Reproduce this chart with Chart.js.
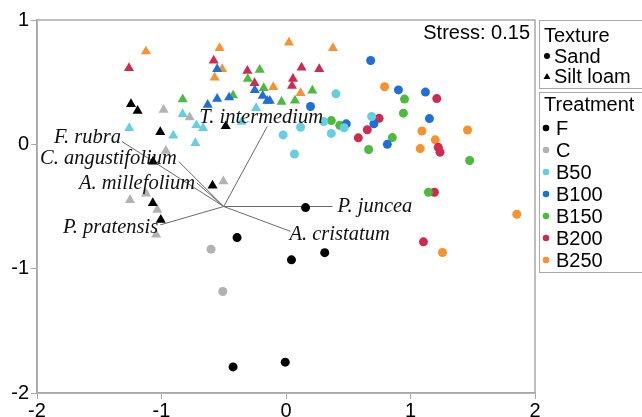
<!DOCTYPE html>
<html>
<head>
<meta charset="utf-8">
<script src="https://cdn.jsdelivr.net/npm/chart.js@4.4.1/dist/chart.umd.min.js"></script>
<style>
  html, body { margin: 0; padding: 0; background: #fff; }
  #wrap { width: 642px; height: 417px; position: relative; }
</style>
</head>
<body>
<div id="wrap"><canvas id="nmds"></canvas></div>
<script>
const treatments = ['F', 'C', 'B50', 'B100', 'B150', 'B200', 'B250'];
const colours = ['#000000', '#b2b2b2', '#62d0e2', '#1f6fd8', '#4cbb3c', '#d02a50', '#f7922f'];

// NMDS scores, sand plots (circles)
const sandF    = [[-0.393,-0.750],[0.157,-0.509],[0.044,-0.929],[0.311,-0.871],[-0.425,-1.790],[-0.006,-1.752]];
const sandC    = [[-0.602,-0.843],[-0.508,-1.184]];
const sandB50  = [[-0.023,0.076],[0.117,0.137],[0.068,-0.078],[0.302,0.183],[0.364,0.088],[0.401,0.406],[0.467,0.133],[0.688,0.224]];
const sandB100 = [[0.197,0.304],[0.680,0.674],[0.903,0.438],[1.120,0.420],[1.152,0.207],[0.706,0.165],[0.484,0.165],[0.814,0.000]];
const sandB150 = [[0.364,0.191],[0.432,0.153],[0.952,0.364],[0.943,0.251],[0.854,0.054],[0.664,-0.042],[1.475,-0.130],[1.144,-0.385]];
const sandB200 = [[1.211,0.368],[0.748,0.209],[0.653,0.117],[0.581,0.052],[1.223,-0.024],[1.237,-0.063],[1.192,-0.385],[1.104,-0.784]];
const sandB250 = [[0.792,0.463],[1.092,0.107],[1.199,0.036],[1.078,-0.034],[1.458,0.115],[1.854,-0.562],[1.257,-0.870]];

// NMDS scores, silt loam plots (triangles)
const siltF    = [[-1.245,0.323],[-1.192,0.270],[-1.010,0.098],[-1.068,-0.138],[-0.484,0.146],[-0.590,-0.332],[-1.070,-0.473],[-1.006,-0.607]];
const siltC    = [[-0.983,0.278],[-0.774,0.217],[-0.965,-0.052],[-0.503,-0.298],[-1.253,-0.449],[-1.124,-0.396],[-1.034,-0.527],[-1.043,-0.726]];
const siltB50  = [[-0.830,0.243],[-1.259,0.130],[-0.905,0.070],[-0.728,0.010],[-0.720,0.154],[-0.666,0.130],[-0.356,0.181],[-0.240,0.291]];
const siltB100 = [[-0.629,0.318],[-0.553,0.366],[-0.457,0.377],[-0.553,0.605],[-0.251,0.436],[-0.187,0.390],[-0.151,0.350],[-0.130,0.350]];
const siltB150 = [[-0.830,0.362],[-0.425,0.393],[-0.211,0.599],[-0.307,0.527],[-0.179,0.452],[-0.036,0.342],[0.072,0.352],[0.212,0.433]];
const siltB200 = [[-1.261,0.613],[-0.581,0.674],[-0.310,0.591],[-0.253,0.492],[0.125,0.618],[0.267,0.605],[0.056,0.527],[0.048,0.471]];
const siltB250 = [[-1.125,0.747],[-0.533,0.774],[-0.513,0.605],[-0.573,0.537],[-0.102,0.460],[0.024,0.819],[0.377,0.774],[0.117,0.412]];

// species vectors (envfit)
const species  = ['F. rubra', 'C. angustifolium', 'A. millefolium', 'P. pratensis', 'T. intermedium', 'P. juncea', 'A. cristatum'];
const speciesX = [-1.318, -0.862, -0.714, -1.010, -0.151, 0.374, 0.036];
const speciesY = [0.023, -0.138, -0.312, -0.648, 0.143, -0.500, -0.700];
const vectorOrigin = [-0.5, -0.5];

const xTicks = [-2, -1, 0, 1, 2];
const yTicks = [-2, -1, 0, 1];
const stressText = 'Stress: 0.15';
const textures = ['Sand', 'Silt loam'];

const sandSets = [sandF, sandC, sandB50, sandB100, sandB150, sandB200, sandB250];
const siltSets = [siltF, siltC, siltB50, siltB100, siltB150, siltB200, siltB250];

// label placement next to each arrow tip: [align, dx, dy]
const labelPlace = [['right', -1, -4], ['right', -2, -3], ['right', -2, 0], ['right', -2, 3],
                    ['center', -6, -9], ['left', 5, 0], ['left', -1, 3]];

const toPts = arr => arr.map(p => ({ x: p[0], y: p[1] }));

const datasets = [];
species.forEach((s, i) => {
    datasets.push({
        label: s,
        data: [{ x: vectorOrigin[0], y: vectorOrigin[1] }, { x: speciesX[i], y: speciesY[i] }],
        showLine: true, borderColor: '#6a6a6a', borderWidth: 1, pointRadius: 0, order: 3
    });
});
treatments.forEach((t, i) => {
    datasets.push({
        label: t + ' silt', data: toPts(siltSets[i]), pointStyle: 'triangle',
        pointRadius: 5.8, backgroundColor: colours[i], borderWidth: 0, order: 2
    });
    datasets.push({
        label: t + ' sand', data: toPts(sandSets[i]), pointStyle: 'circle',
        pointRadius: 4.5, backgroundColor: colours[i], borderWidth: 0, order: 1
    });
});

const extras = {
    id: 'extras',
    afterDatasetsDraw(chart) {
        const { ctx, chartArea: a, scales: { x, y } } = chart;
        ctx.save();
        // species labels
        ctx.fillStyle = '#111';
        ctx.font = 'italic 20.5px "Liberation Serif", "Times New Roman", serif';
        ctx.textBaseline = 'middle';
        species.forEach((s, i) => {
            const [al, dx, dy] = labelPlace[i];
            ctx.textAlign = al;
            ctx.fillText(s, x.getPixelForValue(speciesX[i]) + dx, y.getPixelForValue(speciesY[i]) + dy);
        });
        // frame
        ctx.strokeStyle = '#a8a8a8';
        ctx.lineWidth = 1.5;
        ctx.strokeRect(a.left, a.top, a.right - a.left, a.bottom - a.top);
        // stress
        ctx.fillStyle = '#000';
        ctx.font = '20px "Liberation Sans", Arial, sans-serif';
        ctx.textAlign = 'right';
        ctx.fillText(stressText, a.right - 5, a.top + 13);

        // legend boxes
        ctx.strokeStyle = '#a8a8a8';
        ctx.lineWidth = 1;
        ctx.strokeRect(539.5, 20.5, 120, 68);
        ctx.strokeRect(539.5, 92.5, 120, 180);
        ctx.textAlign = 'left';
        ctx.fillStyle = '#000';
        ctx.fillText('Texture', 544, 36);
        ctx.fillText(textures[0], 554, 57);
        ctx.fillText(textures[1], 554, 77);
        ctx.beginPath(); ctx.arc(547, 56, 3, 0, Math.PI * 2); ctx.fill();
        ctx.beginPath(); ctx.moveTo(547, 73); ctx.lineTo(550.5, 79); ctx.lineTo(543.5, 79); ctx.closePath(); ctx.fill();
        ctx.fillText('Treatment', 544, 105);
        treatments.forEach((t, i) => {
            const ly = 128 + i * 22;
            ctx.fillStyle = colours[i];
            ctx.beginPath(); ctx.arc(546, ly, 3.3, 0, Math.PI * 2); ctx.fill();
            ctx.fillStyle = '#000';
            ctx.fillText(t, 556, ly + 1);
        });
        ctx.restore();
    }
};

new Chart(document.getElementById('nmds'), {
    type: 'scatter',
    data: { datasets },
    options: {
        responsive: true,
        maintainAspectRatio: false,
        animation: false,
        layout: { padding: { top: 20, right: 107, left: 0, bottom: 0 } },
        plugins: { legend: { display: false }, tooltip: { enabled: false } },
        scales: {
            x: {
                min: -2, max: 2,
                afterBuildTicks: s => { s.ticks = xTicks.map(v => ({ value: v })); },
                afterFit: s => { s.height = 24; },
                ticks: { color: '#000', font: { size: 20, family: '"Liberation Sans", Arial' }, padding: 0, maxRotation: 0 },
                grid: { drawOnChartArea: false, tickLength: 6, color: '#a8a8a8' },
                border: { color: '#a8a8a8', width: 1.5 }
            },
            y: {
                min: -2, max: 1,
                afterBuildTicks: s => { s.ticks = yTicks.map(v => ({ value: v })); },
                afterFit: s => { s.width = 37; },
                ticks: { color: '#000', font: { size: 20, family: '"Liberation Sans", Arial' }, padding: 2 },
                grid: { drawOnChartArea: false, tickLength: 6, color: '#a8a8a8' },
                border: { color: '#a8a8a8', width: 1.5 }
            }
        }
    },
    plugins: [extras]
});
</script>
</body>
</html>
